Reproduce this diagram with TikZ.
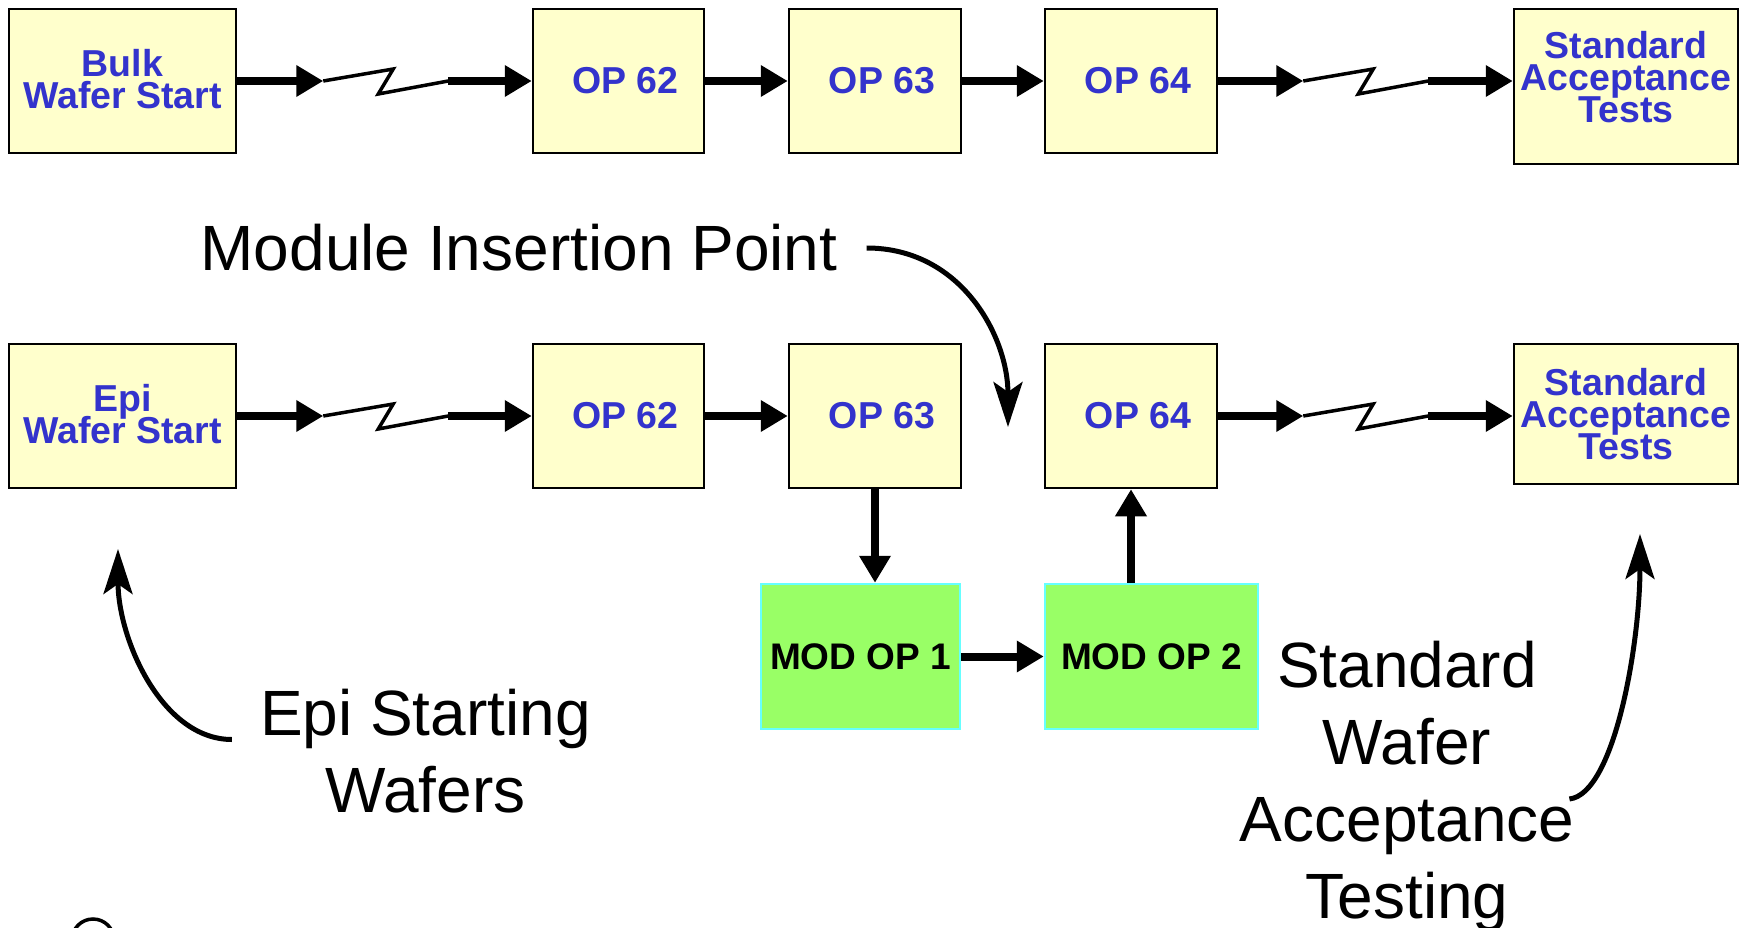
\documentclass[tikz,border=0pt]{standalone}
\usepackage{fontspec}
\setmainfont{Liberation Sans}
\usetikzlibrary{arrows.meta}
\definecolor{boxyellow}{HTML}{FFFFCC}
\definecolor{txtblue}{HTML}{3333CC}
\definecolor{modgreen}{HTML}{99FF66}
\definecolor{modcyan}{HTML}{66FFFF}
\begin{document}
\begin{tikzpicture}[x=1pt,y=-1pt,
  boxtext/.style={text=txtblue, font={\fontsize{37.5}{32}\selectfont\bfseries\lineskiplimit=-100pt\relax}, align=center, inner sep=0pt},
  opbox/.style={boxtext, draw=black, line width=2.5pt, fill=boxyellow},
  modbox/.style={draw=modcyan, line width=2.5pt, fill=modgreen, inner sep=0pt, text=black, font={\fontsize{37}{32}\selectfont\bfseries}},
  conn/.style={line width=8pt, -{Triangle[length=27pt,width=30pt]}},
  zig/.style={line width=3.5pt},
  lbl/.style={font={\fontsize{64}{77}\selectfont}, align=center, inner sep=0pt, text=black},
  curvy/.style={line width=5pt, -{Stealth[length=45pt,width=29pt,inset=10pt]}}
]
\useasboundingbox[fill=white] (0,0) rectangle (1746,928);

% ---- top row
\node[opbox, minimum width=227pt, minimum height=144pt,
  label={[boxtext, name=bulkt, yshift=2pt]center:Bulk\\Wafer Start}] (bulk) at (122.5,81) {};
\node[opbox, minimum width=171pt, minimum height=144pt] (op62t) at (618.5,81) {\hspace*{14pt}OP 62};
\node[opbox, minimum width=172pt, minimum height=144pt] (op63t) at (875,81) {\hspace*{14pt}OP 63};
\node[opbox, minimum width=172pt, minimum height=144pt] (op64t) at (1131,81) {\hspace*{14pt}OP 64};
\node[opbox, minimum width=224pt, minimum height=155pt,
  label={[boxtext, name=std1t, yshift=9pt]center:Standard\\Acceptance\\Tests}] (std1) at (1626,86.5) {};

\draw[conn] (bulk.east) -- ++(86,0) coordinate (z1a);
\draw[zig] (z1a) -- ++(70,-12) -- ++(-15,25) -- ++(70,-13) coordinate (z1b);
\draw[conn] (z1b) -- (z1b -| op62t.west);
\draw[conn] (op62t.east) -- (op63t.west);
\draw[conn] (op63t.east) -- (op64t.west);
\draw[conn] (op64t.east) -- ++(85,0) coordinate (z2a);
\draw[zig] (z2a) -- ++(70,-12) -- ++(-15,25) -- ++(70,-13) coordinate (z2b);
\draw[conn] (z2b) -- (z2b -| std1.west);

% ---- second row
\node[opbox, minimum width=227pt, minimum height=144pt,
  label={[boxtext, name=epit2, yshift=2pt]center:Epi\\Wafer Start}] (epi) at (122.5,416) {};
\node[opbox, minimum width=171pt, minimum height=144pt] (op62b) at (618.5,416) {\hspace*{14pt}OP 62};
\node[opbox, minimum width=172pt, minimum height=144pt] (op63b) at (875,416) {\hspace*{14pt}OP 63};
\node[opbox, minimum width=172pt, minimum height=144pt] (op64b) at (1131,416) {\hspace*{14pt}OP 64};
\node[opbox, minimum width=224pt, minimum height=140pt] (std2) at (1626,414) {Standard\\Acceptance\\Tests};

\draw[conn] (epi.east) -- ++(86,0) coordinate (z3a);
\draw[zig] (z3a) -- ++(70,-12) -- ++(-15,25) -- ++(70,-13) coordinate (z3b);
\draw[conn] (z3b) -- (z3b -| op62b.west);
\draw[conn] (op62b.east) -- (op63b.west);
\draw[conn] (op64b.east) -- ++(85,0) coordinate (z4a);
\draw[zig] (z4a) -- ++(70,-12) -- ++(-15,25) -- ++(70,-13) coordinate (z4b);
\draw[conn] (z4b) -- (z4b -| std2.west);

% ---- module boxes
\node[modbox, minimum width=199pt, minimum height=145pt] (mod1) at (860.5,656.5) {MOD OP 1};
\node[modbox, minimum width=213pt, minimum height=145pt] (mod2) at (1151.5,656.5) {MOD OP 2};
\draw[conn] (op63b.south) -- (op63b.south |- mod1.north);
\draw[conn] (mod1.east) -- (mod2.west);
\draw[conn] (op64b.south |- mod2.north) -- (op64b.south);

% ---- annotations
\node[lbl] (mip) at (519,248) {Module Insertion Point};
\node[lbl] (epit) at (425.5,751.5) {Epi Starting\\Wafers};
\node[lbl] (stdw) at (1407,786) {Standard\\Wafer\\Acceptance\\Testing};

\coordinate (insTip) at (1008,427);
\coordinate (epiTip) at (118,549);
\coordinate (swTip) at (1640,534);
\draw[curvy] ([xshift=29pt]mip.east) .. controls +(95,0) and +(0,-90) .. (insTip);
\draw[curvy] ([xshift=-28pt,yshift=12pt]epit.west) .. controls +(-70,0) and +(0,90) .. (epiTip);
\draw[curvy] ([xshift=-5pt,yshift=-13pt]stdw.east) .. controls +(45,-5) and +(0,110) .. (swTip);

% ---- partial shape at the lower left edge
\begin{scope}
\clip (0,0) rectangle (1746,928);
\draw[line width=3.5pt] (93,940) circle[radius=21pt];
\end{scope}
\end{tikzpicture}
\end{document}
